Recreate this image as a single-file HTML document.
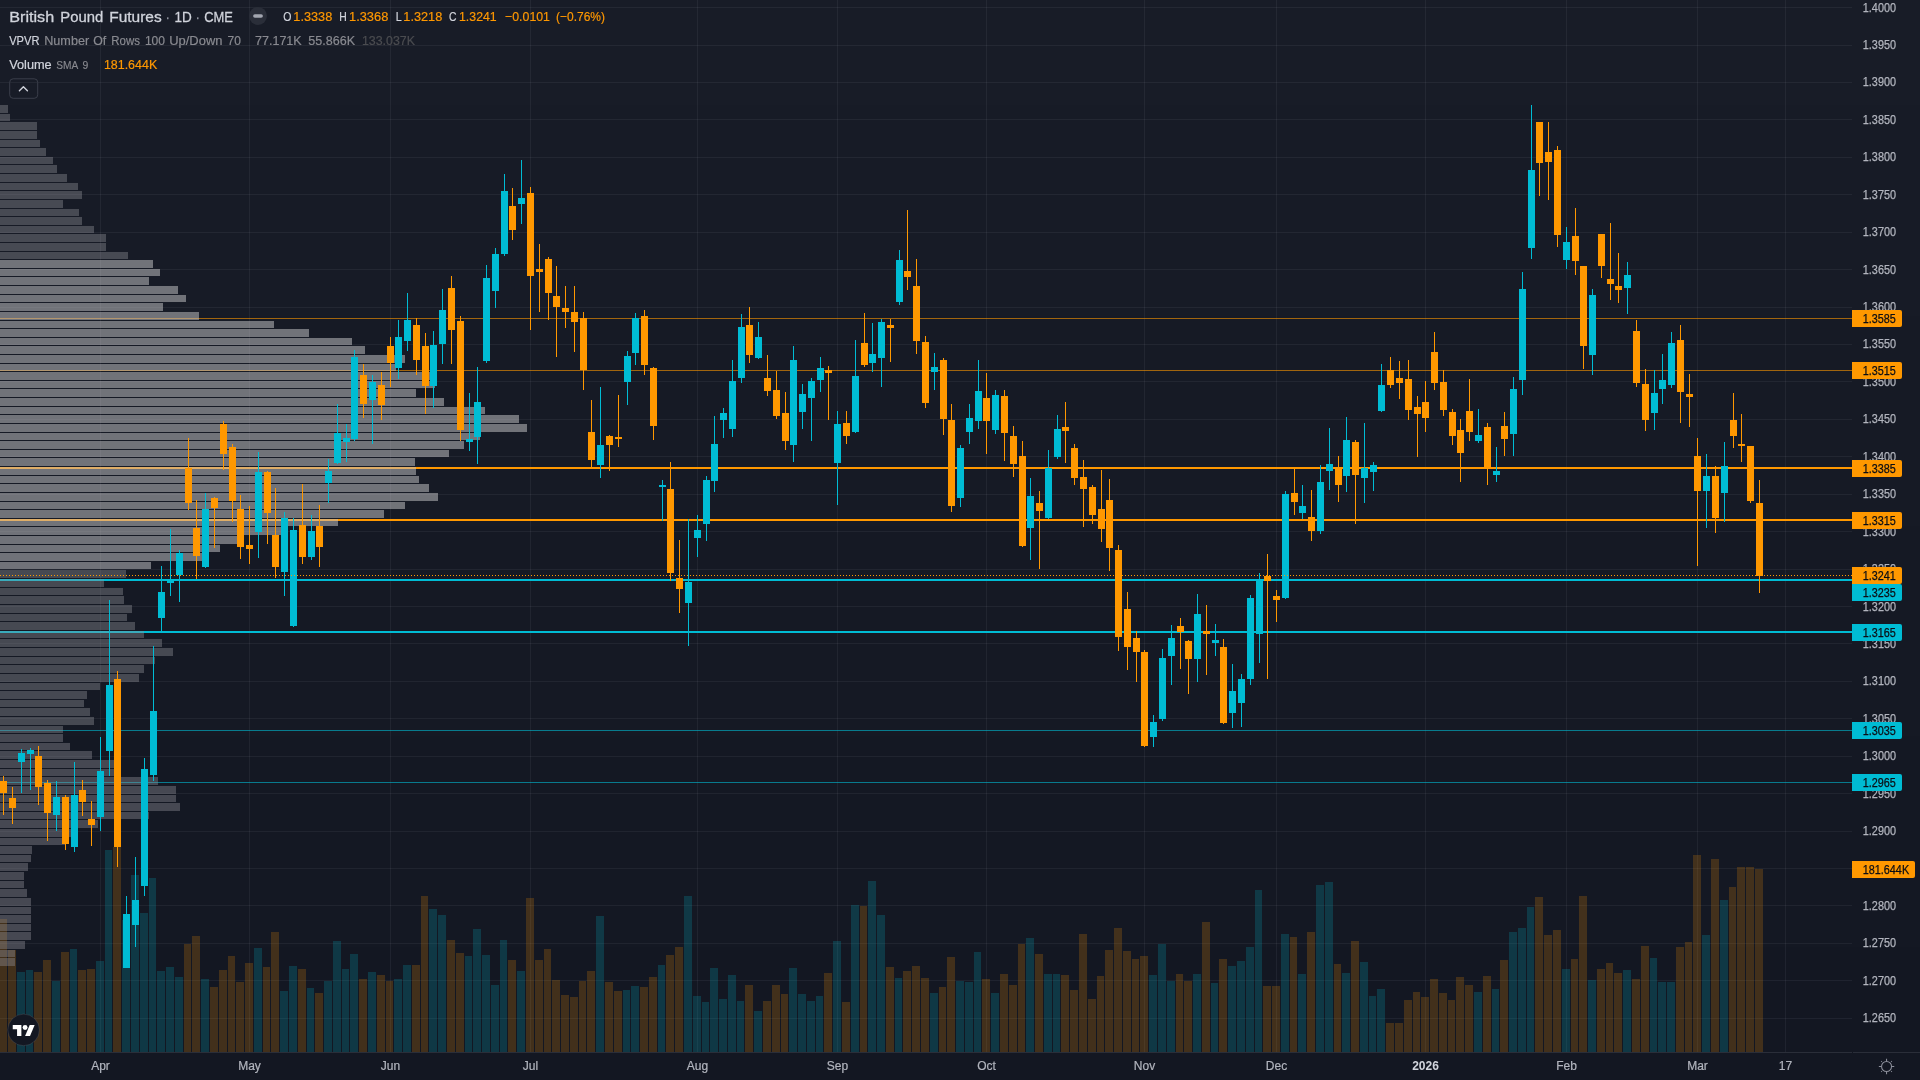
<!DOCTYPE html>
<html><head><meta charset="utf-8"><title>British Pound Futures</title>
<style>html,body{margin:0;padding:0;background:#131722;width:1920px;height:1080px;overflow:hidden}</style>
</head><body>
<svg width="1920" height="1080" viewBox="0 0 1920 1080" style="display:block;font-family:'Liberation Sans',sans-serif">
<rect x="0" y="0" width="1920" height="1080" fill="#131722"/>
<rect x="0" y="0" width="1920" height="105" fill="#181c27" shape-rendering="crispEdges"/>
<rect x="0" y="105" width="1920" height="211" fill="#171b26" shape-rendering="crispEdges"/>
<rect x="0" y="316" width="1920" height="210" fill="#161a25" shape-rendering="crispEdges"/>
<rect x="0" y="526" width="1920" height="210" fill="#151924" shape-rendering="crispEdges"/>
<rect x="0" y="736" width="1920" height="211" fill="#141823" shape-rendering="crispEdges"/>
<rect x="0" y="947" width="1920" height="105" fill="#131722" shape-rendering="crispEdges"/>
<g shape-rendering="crispEdges" fill="#f0f3fa" fill-opacity="0.06">
<rect x="0" y="7" width="1852" height="1"/>
<rect x="0" y="45" width="1852" height="1"/>
<rect x="0" y="82" width="1852" height="1"/>
<rect x="0" y="119" width="1852" height="1"/>
<rect x="0" y="157" width="1852" height="1"/>
<rect x="0" y="194" width="1852" height="1"/>
<rect x="0" y="232" width="1852" height="1"/>
<rect x="0" y="269" width="1852" height="1"/>
<rect x="0" y="307" width="1852" height="1"/>
<rect x="0" y="344" width="1852" height="1"/>
<rect x="0" y="381" width="1852" height="1"/>
<rect x="0" y="419" width="1852" height="1"/>
<rect x="0" y="456" width="1852" height="1"/>
<rect x="0" y="494" width="1852" height="1"/>
<rect x="0" y="531" width="1852" height="1"/>
<rect x="0" y="569" width="1852" height="1"/>
<rect x="0" y="606" width="1852" height="1"/>
<rect x="0" y="643" width="1852" height="1"/>
<rect x="0" y="681" width="1852" height="1"/>
<rect x="0" y="718" width="1852" height="1"/>
<rect x="0" y="756" width="1852" height="1"/>
<rect x="0" y="793" width="1852" height="1"/>
<rect x="0" y="831" width="1852" height="1"/>
<rect x="0" y="868" width="1852" height="1"/>
<rect x="0" y="905" width="1852" height="1"/>
<rect x="0" y="943" width="1852" height="1"/>
<rect x="0" y="980" width="1852" height="1"/>
<rect x="0" y="1018" width="1852" height="1"/>
<rect x="100" y="0" width="1" height="1052"/>
<rect x="249" y="0" width="1" height="1052"/>
<rect x="390" y="0" width="1" height="1052"/>
<rect x="530" y="0" width="1" height="1052"/>
<rect x="697" y="0" width="1" height="1052"/>
<rect x="837" y="0" width="1" height="1052"/>
<rect x="986" y="0" width="1" height="1052"/>
<rect x="1144" y="0" width="1" height="1052"/>
<rect x="1276" y="0" width="1" height="1052"/>
<rect x="1425" y="0" width="1" height="1052"/>
<rect x="1566" y="0" width="1" height="1052"/>
<rect x="1697" y="0" width="1" height="1052"/>
<rect x="1785" y="0" width="1" height="1052"/>
</g>
<g shape-rendering="crispEdges" fill-opacity="0.2">
<rect x="0" y="919" width="7" height="133" fill="#ff9800"/>
<rect x="8" y="950" width="8" height="102" fill="#ff9800"/>
<rect x="17" y="972" width="8" height="80" fill="#00bcd4"/>
<rect x="26" y="970" width="7" height="82" fill="#00bcd4"/>
<rect x="34" y="972" width="8" height="80" fill="#ff9800"/>
<rect x="43" y="960" width="8" height="92" fill="#ff9800"/>
<rect x="52" y="981" width="8" height="71" fill="#00bcd4"/>
<rect x="61" y="952" width="8" height="100" fill="#ff9800"/>
<rect x="70" y="949" width="7" height="103" fill="#00bcd4"/>
<rect x="78" y="970" width="8" height="82" fill="#ff9800"/>
<rect x="87" y="969" width="8" height="83" fill="#ff9800"/>
<rect x="96" y="961" width="8" height="91" fill="#00bcd4"/>
<rect x="105" y="850" width="7" height="202" fill="#00bcd4"/>
<rect x="113" y="847" width="8" height="205" fill="#ff9800"/>
<rect x="122" y="920" width="8" height="132" fill="#00bcd4"/>
<rect x="131" y="875" width="8" height="177" fill="#00bcd4"/>
<rect x="140" y="913" width="8" height="139" fill="#00bcd4"/>
<rect x="149" y="878" width="7" height="174" fill="#00bcd4"/>
<rect x="157" y="971" width="8" height="81" fill="#00bcd4"/>
<rect x="166" y="967" width="8" height="85" fill="#00bcd4"/>
<rect x="175" y="977" width="8" height="75" fill="#00bcd4"/>
<rect x="184" y="944" width="7" height="108" fill="#ff9800"/>
<rect x="192" y="936" width="8" height="116" fill="#ff9800"/>
<rect x="201" y="979" width="8" height="73" fill="#00bcd4"/>
<rect x="210" y="987" width="8" height="65" fill="#ff9800"/>
<rect x="219" y="970" width="8" height="82" fill="#ff9800"/>
<rect x="228" y="956" width="7" height="96" fill="#ff9800"/>
<rect x="236" y="982" width="8" height="70" fill="#ff9800"/>
<rect x="245" y="963" width="8" height="89" fill="#ff9800"/>
<rect x="254" y="948" width="8" height="104" fill="#00bcd4"/>
<rect x="263" y="967" width="7" height="85" fill="#ff9800"/>
<rect x="271" y="932" width="8" height="120" fill="#ff9800"/>
<rect x="280" y="991" width="8" height="61" fill="#00bcd4"/>
<rect x="289" y="966" width="8" height="86" fill="#00bcd4"/>
<rect x="298" y="969" width="8" height="83" fill="#ff9800"/>
<rect x="307" y="988" width="7" height="64" fill="#00bcd4"/>
<rect x="315" y="993" width="8" height="59" fill="#ff9800"/>
<rect x="324" y="981" width="8" height="71" fill="#00bcd4"/>
<rect x="333" y="941" width="8" height="111" fill="#00bcd4"/>
<rect x="342" y="969" width="7" height="83" fill="#00bcd4"/>
<rect x="350" y="954" width="8" height="98" fill="#00bcd4"/>
<rect x="359" y="979" width="8" height="73" fill="#ff9800"/>
<rect x="368" y="972" width="8" height="80" fill="#00bcd4"/>
<rect x="377" y="975" width="8" height="77" fill="#ff9800"/>
<rect x="386" y="981" width="7" height="71" fill="#ff9800"/>
<rect x="394" y="979" width="8" height="73" fill="#00bcd4"/>
<rect x="403" y="965" width="8" height="87" fill="#00bcd4"/>
<rect x="412" y="965" width="8" height="87" fill="#ff9800"/>
<rect x="421" y="896" width="7" height="156" fill="#ff9800"/>
<rect x="429" y="909" width="8" height="143" fill="#00bcd4"/>
<rect x="438" y="915" width="8" height="137" fill="#00bcd4"/>
<rect x="447" y="940" width="8" height="112" fill="#ff9800"/>
<rect x="456" y="953" width="8" height="99" fill="#ff9800"/>
<rect x="465" y="956" width="7" height="96" fill="#00bcd4"/>
<rect x="473" y="929" width="8" height="123" fill="#00bcd4"/>
<rect x="482" y="955" width="8" height="97" fill="#00bcd4"/>
<rect x="491" y="985" width="8" height="67" fill="#00bcd4"/>
<rect x="500" y="940" width="7" height="112" fill="#00bcd4"/>
<rect x="508" y="960" width="8" height="92" fill="#ff9800"/>
<rect x="517" y="971" width="8" height="81" fill="#00bcd4"/>
<rect x="526" y="898" width="8" height="154" fill="#ff9800"/>
<rect x="535" y="960" width="8" height="92" fill="#ff9800"/>
<rect x="544" y="949" width="7" height="103" fill="#ff9800"/>
<rect x="552" y="980" width="8" height="72" fill="#ff9800"/>
<rect x="561" y="995" width="8" height="57" fill="#ff9800"/>
<rect x="570" y="997" width="8" height="55" fill="#ff9800"/>
<rect x="579" y="981" width="7" height="71" fill="#ff9800"/>
<rect x="587" y="971" width="8" height="81" fill="#ff9800"/>
<rect x="596" y="916" width="8" height="136" fill="#00bcd4"/>
<rect x="605" y="982" width="8" height="70" fill="#ff9800"/>
<rect x="614" y="991" width="8" height="61" fill="#ff9800"/>
<rect x="623" y="990" width="7" height="62" fill="#00bcd4"/>
<rect x="631" y="986" width="8" height="66" fill="#00bcd4"/>
<rect x="640" y="987" width="8" height="65" fill="#ff9800"/>
<rect x="649" y="977" width="8" height="75" fill="#ff9800"/>
<rect x="658" y="965" width="7" height="87" fill="#00bcd4"/>
<rect x="666" y="955" width="8" height="97" fill="#ff9800"/>
<rect x="675" y="947" width="8" height="105" fill="#ff9800"/>
<rect x="684" y="896" width="8" height="156" fill="#00bcd4"/>
<rect x="693" y="996" width="8" height="56" fill="#00bcd4"/>
<rect x="702" y="1002" width="7" height="50" fill="#00bcd4"/>
<rect x="710" y="968" width="8" height="84" fill="#00bcd4"/>
<rect x="719" y="999" width="8" height="53" fill="#00bcd4"/>
<rect x="728" y="975" width="8" height="77" fill="#00bcd4"/>
<rect x="737" y="1001" width="7" height="51" fill="#00bcd4"/>
<rect x="745" y="985" width="8" height="67" fill="#ff9800"/>
<rect x="754" y="1011" width="8" height="41" fill="#00bcd4"/>
<rect x="763" y="1001" width="8" height="51" fill="#ff9800"/>
<rect x="772" y="985" width="8" height="67" fill="#ff9800"/>
<rect x="781" y="994" width="7" height="58" fill="#ff9800"/>
<rect x="789" y="968" width="8" height="84" fill="#00bcd4"/>
<rect x="798" y="994" width="8" height="58" fill="#00bcd4"/>
<rect x="807" y="1001" width="8" height="51" fill="#00bcd4"/>
<rect x="816" y="996" width="7" height="56" fill="#00bcd4"/>
<rect x="824" y="973" width="8" height="79" fill="#ff9800"/>
<rect x="833" y="941" width="8" height="111" fill="#00bcd4"/>
<rect x="842" y="1002" width="8" height="50" fill="#ff9800"/>
<rect x="851" y="905" width="8" height="147" fill="#00bcd4"/>
<rect x="860" y="906" width="7" height="146" fill="#ff9800"/>
<rect x="868" y="881" width="8" height="171" fill="#00bcd4"/>
<rect x="877" y="915" width="8" height="137" fill="#00bcd4"/>
<rect x="886" y="967" width="8" height="85" fill="#ff9800"/>
<rect x="895" y="978" width="7" height="74" fill="#00bcd4"/>
<rect x="903" y="971" width="8" height="81" fill="#ff9800"/>
<rect x="912" y="966" width="8" height="86" fill="#ff9800"/>
<rect x="921" y="978" width="8" height="74" fill="#ff9800"/>
<rect x="930" y="993" width="8" height="59" fill="#00bcd4"/>
<rect x="939" y="987" width="7" height="65" fill="#ff9800"/>
<rect x="947" y="957" width="8" height="95" fill="#ff9800"/>
<rect x="956" y="981" width="8" height="71" fill="#00bcd4"/>
<rect x="965" y="982" width="8" height="70" fill="#00bcd4"/>
<rect x="974" y="952" width="7" height="100" fill="#00bcd4"/>
<rect x="982" y="979" width="8" height="73" fill="#ff9800"/>
<rect x="991" y="993" width="8" height="59" fill="#00bcd4"/>
<rect x="1000" y="974" width="8" height="78" fill="#ff9800"/>
<rect x="1009" y="985" width="8" height="67" fill="#ff9800"/>
<rect x="1018" y="944" width="7" height="108" fill="#ff9800"/>
<rect x="1026" y="938" width="8" height="114" fill="#00bcd4"/>
<rect x="1035" y="954" width="8" height="98" fill="#ff9800"/>
<rect x="1044" y="974" width="8" height="78" fill="#00bcd4"/>
<rect x="1053" y="974" width="7" height="78" fill="#00bcd4"/>
<rect x="1061" y="975" width="8" height="77" fill="#ff9800"/>
<rect x="1070" y="990" width="8" height="62" fill="#ff9800"/>
<rect x="1079" y="934" width="8" height="118" fill="#ff9800"/>
<rect x="1088" y="999" width="8" height="53" fill="#ff9800"/>
<rect x="1097" y="976" width="7" height="76" fill="#ff9800"/>
<rect x="1105" y="950" width="8" height="102" fill="#ff9800"/>
<rect x="1114" y="928" width="8" height="124" fill="#ff9800"/>
<rect x="1123" y="951" width="8" height="101" fill="#ff9800"/>
<rect x="1132" y="959" width="7" height="93" fill="#ff9800"/>
<rect x="1140" y="956" width="8" height="96" fill="#ff9800"/>
<rect x="1149" y="975" width="8" height="77" fill="#00bcd4"/>
<rect x="1158" y="944" width="8" height="108" fill="#00bcd4"/>
<rect x="1167" y="981" width="8" height="71" fill="#00bcd4"/>
<rect x="1176" y="974" width="7" height="78" fill="#ff9800"/>
<rect x="1184" y="981" width="8" height="71" fill="#ff9800"/>
<rect x="1193" y="974" width="8" height="78" fill="#00bcd4"/>
<rect x="1202" y="922" width="8" height="130" fill="#ff9800"/>
<rect x="1211" y="983" width="7" height="69" fill="#00bcd4"/>
<rect x="1219" y="959" width="8" height="93" fill="#ff9800"/>
<rect x="1228" y="966" width="8" height="86" fill="#00bcd4"/>
<rect x="1237" y="961" width="8" height="91" fill="#00bcd4"/>
<rect x="1246" y="947" width="8" height="105" fill="#00bcd4"/>
<rect x="1255" y="890" width="7" height="162" fill="#00bcd4"/>
<rect x="1263" y="986" width="8" height="66" fill="#ff9800"/>
<rect x="1272" y="986" width="8" height="66" fill="#ff9800"/>
<rect x="1281" y="934" width="8" height="118" fill="#00bcd4"/>
<rect x="1290" y="937" width="7" height="115" fill="#ff9800"/>
<rect x="1298" y="974" width="8" height="78" fill="#00bcd4"/>
<rect x="1307" y="932" width="8" height="120" fill="#ff9800"/>
<rect x="1316" y="885" width="8" height="167" fill="#00bcd4"/>
<rect x="1325" y="882" width="8" height="170" fill="#00bcd4"/>
<rect x="1334" y="964" width="7" height="88" fill="#ff9800"/>
<rect x="1342" y="973" width="8" height="79" fill="#00bcd4"/>
<rect x="1351" y="941" width="8" height="111" fill="#ff9800"/>
<rect x="1360" y="962" width="8" height="90" fill="#00bcd4"/>
<rect x="1369" y="996" width="7" height="56" fill="#00bcd4"/>
<rect x="1377" y="989" width="8" height="63" fill="#00bcd4"/>
<rect x="1386" y="1023" width="8" height="29" fill="#ff9800"/>
<rect x="1395" y="1023" width="8" height="29" fill="#ff9800"/>
<rect x="1404" y="1000" width="8" height="52" fill="#ff9800"/>
<rect x="1413" y="992" width="7" height="60" fill="#ff9800"/>
<rect x="1421" y="997" width="8" height="55" fill="#ff9800"/>
<rect x="1430" y="979" width="8" height="73" fill="#ff9800"/>
<rect x="1439" y="993" width="8" height="59" fill="#ff9800"/>
<rect x="1448" y="1000" width="7" height="52" fill="#ff9800"/>
<rect x="1456" y="977" width="8" height="75" fill="#ff9800"/>
<rect x="1465" y="985" width="8" height="67" fill="#ff9800"/>
<rect x="1474" y="992" width="8" height="60" fill="#00bcd4"/>
<rect x="1483" y="976" width="8" height="76" fill="#ff9800"/>
<rect x="1492" y="989" width="7" height="63" fill="#00bcd4"/>
<rect x="1500" y="960" width="8" height="92" fill="#ff9800"/>
<rect x="1509" y="932" width="8" height="120" fill="#00bcd4"/>
<rect x="1518" y="928" width="8" height="124" fill="#00bcd4"/>
<rect x="1527" y="907" width="7" height="145" fill="#00bcd4"/>
<rect x="1535" y="897" width="8" height="155" fill="#ff9800"/>
<rect x="1544" y="935" width="8" height="117" fill="#ff9800"/>
<rect x="1553" y="930" width="8" height="122" fill="#ff9800"/>
<rect x="1562" y="969" width="8" height="83" fill="#00bcd4"/>
<rect x="1571" y="959" width="7" height="93" fill="#ff9800"/>
<rect x="1579" y="896" width="8" height="156" fill="#ff9800"/>
<rect x="1588" y="980" width="8" height="72" fill="#00bcd4"/>
<rect x="1597" y="969" width="8" height="83" fill="#ff9800"/>
<rect x="1606" y="963" width="7" height="89" fill="#ff9800"/>
<rect x="1614" y="973" width="8" height="79" fill="#ff9800"/>
<rect x="1623" y="970" width="8" height="82" fill="#00bcd4"/>
<rect x="1632" y="979" width="8" height="73" fill="#ff9800"/>
<rect x="1641" y="946" width="8" height="106" fill="#ff9800"/>
<rect x="1650" y="958" width="7" height="94" fill="#00bcd4"/>
<rect x="1658" y="982" width="8" height="70" fill="#00bcd4"/>
<rect x="1667" y="982" width="8" height="70" fill="#00bcd4"/>
<rect x="1676" y="947" width="8" height="105" fill="#ff9800"/>
<rect x="1685" y="942" width="7" height="110" fill="#ff9800"/>
<rect x="1693" y="855" width="8" height="197" fill="#ff9800"/>
<rect x="1702" y="935" width="8" height="117" fill="#00bcd4"/>
<rect x="1711" y="859" width="8" height="193" fill="#ff9800"/>
<rect x="1720" y="900" width="8" height="152" fill="#00bcd4"/>
<rect x="1729" y="887" width="7" height="165" fill="#ff9800"/>
<rect x="1737" y="867" width="8" height="185" fill="#ff9800"/>
<rect x="1746" y="867" width="8" height="185" fill="#ff9800"/>
<rect x="1755" y="869" width="8" height="183" fill="#ff9800"/>
</g>
<rect x="0" y="318" width="1852" height="1" fill="#ff9800" fill-opacity="0.6" shape-rendering="crispEdges"/>
<rect x="0" y="370" width="1852" height="1" fill="#ff9800" fill-opacity="0.6" shape-rendering="crispEdges"/>
<rect x="0" y="467" width="1852" height="2" fill="#ff9800" fill-opacity="1.0" shape-rendering="crispEdges"/>
<rect x="0" y="519" width="1852" height="2" fill="#ff9800" fill-opacity="1.0" shape-rendering="crispEdges"/>
<rect x="0" y="579" width="1852" height="2" fill="#00bcd4" fill-opacity="1.0" shape-rendering="crispEdges"/>
<rect x="0" y="631" width="1852" height="2" fill="#00bcd4" fill-opacity="1.0" shape-rendering="crispEdges"/>
<rect x="0" y="730" width="1852" height="1" fill="#00bcd4" fill-opacity="0.6" shape-rendering="crispEdges"/>
<rect x="0" y="782" width="1852" height="1" fill="#00bcd4" fill-opacity="0.6" shape-rendering="crispEdges"/>
<g shape-rendering="crispEdges">
<rect x="0" y="105" width="8" height="8" fill="#919299" fill-opacity="0.4"/>
<rect x="0" y="114" width="10" height="7" fill="#919299" fill-opacity="0.4"/>
<rect x="0" y="122" width="37" height="8" fill="#919299" fill-opacity="0.4"/>
<rect x="0" y="131" width="37" height="8" fill="#919299" fill-opacity="0.4"/>
<rect x="0" y="140" width="40" height="7" fill="#919299" fill-opacity="0.4"/>
<rect x="0" y="148" width="46" height="8" fill="#919299" fill-opacity="0.4"/>
<rect x="0" y="157" width="53" height="7" fill="#919299" fill-opacity="0.4"/>
<rect x="0" y="165" width="57" height="8" fill="#919299" fill-opacity="0.4"/>
<rect x="0" y="174" width="67" height="8" fill="#919299" fill-opacity="0.4"/>
<rect x="0" y="183" width="78" height="7" fill="#919299" fill-opacity="0.4"/>
<rect x="0" y="191" width="82" height="8" fill="#919299" fill-opacity="0.4"/>
<rect x="0" y="200" width="63" height="8" fill="#919299" fill-opacity="0.4"/>
<rect x="0" y="209" width="79" height="7" fill="#919299" fill-opacity="0.4"/>
<rect x="0" y="217" width="82" height="8" fill="#919299" fill-opacity="0.4"/>
<rect x="0" y="226" width="94" height="7" fill="#919299" fill-opacity="0.4"/>
<rect x="0" y="234" width="106" height="8" fill="#919299" fill-opacity="0.4"/>
<rect x="0" y="243" width="106" height="8" fill="#919299" fill-opacity="0.4"/>
<rect x="0" y="252" width="128" height="7" fill="#919299" fill-opacity="0.4"/>
<rect x="0" y="260" width="153" height="8" fill="#c2c2c5" fill-opacity="0.53"/>
<rect x="0" y="269" width="160" height="7" fill="#c2c2c5" fill-opacity="0.53"/>
<rect x="0" y="277" width="149" height="8" fill="#c2c2c5" fill-opacity="0.53"/>
<rect x="0" y="286" width="178" height="8" fill="#c2c2c5" fill-opacity="0.53"/>
<rect x="0" y="295" width="186" height="7" fill="#c2c2c5" fill-opacity="0.53"/>
<rect x="0" y="303" width="163" height="8" fill="#c2c2c5" fill-opacity="0.53"/>
<rect x="0" y="312" width="199" height="8" fill="#c2c2c5" fill-opacity="0.53"/>
<rect x="0" y="321" width="274" height="7" fill="#c2c2c5" fill-opacity="0.53"/>
<rect x="0" y="329" width="309" height="8" fill="#c2c2c5" fill-opacity="0.53"/>
<rect x="0" y="338" width="352" height="7" fill="#c2c2c5" fill-opacity="0.53"/>
<rect x="0" y="346" width="365" height="8" fill="#c2c2c5" fill-opacity="0.53"/>
<rect x="0" y="355" width="405" height="8" fill="#c2c2c5" fill-opacity="0.53"/>
<rect x="0" y="364" width="396" height="7" fill="#c2c2c5" fill-opacity="0.53"/>
<rect x="0" y="372" width="434" height="8" fill="#c2c2c5" fill-opacity="0.53"/>
<rect x="0" y="381" width="435" height="7" fill="#c2c2c5" fill-opacity="0.53"/>
<rect x="0" y="389" width="416" height="8" fill="#c2c2c5" fill-opacity="0.53"/>
<rect x="0" y="398" width="444" height="8" fill="#c2c2c5" fill-opacity="0.53"/>
<rect x="0" y="407" width="485" height="7" fill="#c2c2c5" fill-opacity="0.53"/>
<rect x="0" y="415" width="519" height="8" fill="#c2c2c5" fill-opacity="0.53"/>
<rect x="0" y="424" width="527" height="8" fill="#c2c2c5" fill-opacity="0.53"/>
<rect x="0" y="433" width="480" height="7" fill="#c2c2c5" fill-opacity="0.53"/>
<rect x="0" y="441" width="464" height="8" fill="#c2c2c5" fill-opacity="0.53"/>
<rect x="0" y="450" width="449" height="7" fill="#c2c2c5" fill-opacity="0.53"/>
<rect x="0" y="458" width="415" height="8" fill="#c2c2c5" fill-opacity="0.53"/>
<rect x="0" y="467" width="416" height="8" fill="#c2c2c5" fill-opacity="0.53"/>
<rect x="0" y="476" width="419" height="7" fill="#c2c2c5" fill-opacity="0.53"/>
<rect x="0" y="484" width="429" height="8" fill="#c2c2c5" fill-opacity="0.53"/>
<rect x="0" y="493" width="438" height="8" fill="#c2c2c5" fill-opacity="0.53"/>
<rect x="0" y="502" width="405" height="7" fill="#c2c2c5" fill-opacity="0.53"/>
<rect x="0" y="510" width="384" height="8" fill="#c2c2c5" fill-opacity="0.53"/>
<rect x="0" y="519" width="338" height="7" fill="#c2c2c5" fill-opacity="0.53"/>
<rect x="0" y="527" width="284" height="8" fill="#c2c2c5" fill-opacity="0.53"/>
<rect x="0" y="536" width="240" height="8" fill="#c2c2c5" fill-opacity="0.53"/>
<rect x="0" y="545" width="220" height="7" fill="#c2c2c5" fill-opacity="0.53"/>
<rect x="0" y="553" width="205" height="8" fill="#c2c2c5" fill-opacity="0.53"/>
<rect x="0" y="562" width="151" height="7" fill="#c2c2c5" fill-opacity="0.53"/>
<rect x="0" y="570" width="126" height="8" fill="#919299" fill-opacity="0.4"/>
<rect x="0" y="579" width="104" height="8" fill="#919299" fill-opacity="0.4"/>
<rect x="0" y="588" width="123" height="7" fill="#919299" fill-opacity="0.4"/>
<rect x="0" y="596" width="124" height="8" fill="#919299" fill-opacity="0.4"/>
<rect x="0" y="605" width="132" height="8" fill="#919299" fill-opacity="0.4"/>
<rect x="0" y="614" width="127" height="7" fill="#919299" fill-opacity="0.4"/>
<rect x="0" y="622" width="135" height="8" fill="#919299" fill-opacity="0.4"/>
<rect x="0" y="631" width="144" height="7" fill="#919299" fill-opacity="0.4"/>
<rect x="0" y="639" width="162" height="8" fill="#919299" fill-opacity="0.4"/>
<rect x="0" y="648" width="173" height="8" fill="#919299" fill-opacity="0.4"/>
<rect x="0" y="657" width="155" height="7" fill="#919299" fill-opacity="0.4"/>
<rect x="0" y="665" width="144" height="8" fill="#919299" fill-opacity="0.4"/>
<rect x="0" y="674" width="139" height="8" fill="#919299" fill-opacity="0.4"/>
<rect x="0" y="683" width="100" height="7" fill="#919299" fill-opacity="0.4"/>
<rect x="0" y="691" width="87" height="8" fill="#919299" fill-opacity="0.4"/>
<rect x="0" y="700" width="84" height="7" fill="#919299" fill-opacity="0.4"/>
<rect x="0" y="708" width="90" height="8" fill="#919299" fill-opacity="0.4"/>
<rect x="0" y="717" width="94" height="8" fill="#919299" fill-opacity="0.4"/>
<rect x="0" y="726" width="63" height="7" fill="#919299" fill-opacity="0.4"/>
<rect x="0" y="734" width="63" height="8" fill="#919299" fill-opacity="0.4"/>
<rect x="0" y="743" width="70" height="7" fill="#919299" fill-opacity="0.4"/>
<rect x="0" y="751" width="92" height="8" fill="#919299" fill-opacity="0.4"/>
<rect x="0" y="760" width="117" height="8" fill="#919299" fill-opacity="0.4"/>
<rect x="0" y="769" width="117" height="7" fill="#919299" fill-opacity="0.4"/>
<rect x="0" y="777" width="158" height="8" fill="#919299" fill-opacity="0.4"/>
<rect x="0" y="786" width="176" height="8" fill="#919299" fill-opacity="0.4"/>
<rect x="0" y="795" width="176" height="7" fill="#919299" fill-opacity="0.4"/>
<rect x="0" y="803" width="180" height="8" fill="#919299" fill-opacity="0.4"/>
<rect x="0" y="812" width="149" height="7" fill="#919299" fill-opacity="0.4"/>
<rect x="0" y="820" width="98" height="8" fill="#919299" fill-opacity="0.4"/>
<rect x="0" y="829" width="74" height="8" fill="#919299" fill-opacity="0.4"/>
<rect x="0" y="838" width="65" height="7" fill="#919299" fill-opacity="0.4"/>
<rect x="0" y="846" width="32" height="8" fill="#919299" fill-opacity="0.4"/>
<rect x="0" y="855" width="31" height="7" fill="#919299" fill-opacity="0.4"/>
<rect x="0" y="863" width="28" height="8" fill="#919299" fill-opacity="0.4"/>
<rect x="0" y="872" width="24" height="8" fill="#919299" fill-opacity="0.4"/>
<rect x="0" y="881" width="24" height="7" fill="#919299" fill-opacity="0.4"/>
<rect x="0" y="889" width="27" height="8" fill="#919299" fill-opacity="0.4"/>
<rect x="0" y="898" width="31" height="8" fill="#919299" fill-opacity="0.4"/>
<rect x="0" y="907" width="31" height="7" fill="#919299" fill-opacity="0.4"/>
<rect x="0" y="915" width="31" height="8" fill="#919299" fill-opacity="0.4"/>
<rect x="0" y="924" width="31" height="7" fill="#919299" fill-opacity="0.4"/>
<rect x="0" y="932" width="31" height="8" fill="#919299" fill-opacity="0.4"/>
<rect x="0" y="941" width="25" height="8" fill="#919299" fill-opacity="0.4"/>
<rect x="0" y="950" width="15" height="7" fill="#919299" fill-opacity="0.4"/>
<rect x="0" y="958" width="15" height="8" fill="#919299" fill-opacity="0.4"/>
</g>
<g shape-rendering="crispEdges">
<rect x="3" y="776" width="1" height="39" fill="#ff9800"/>
<rect x="0" y="781" width="7" height="12" fill="#ff9800"/>
<rect x="12" y="787" width="1" height="37" fill="#ff9800"/>
<rect x="9" y="798" width="7" height="10" fill="#ff9800"/>
<rect x="21" y="749" width="1" height="44" fill="#00bcd4"/>
<rect x="18" y="753" width="7" height="9" fill="#00bcd4"/>
<rect x="30" y="748" width="1" height="42" fill="#00bcd4"/>
<rect x="27" y="750" width="7" height="4" fill="#00bcd4"/>
<rect x="38" y="746" width="1" height="59" fill="#ff9800"/>
<rect x="35" y="756" width="7" height="31" fill="#ff9800"/>
<rect x="47" y="780" width="1" height="61" fill="#ff9800"/>
<rect x="44" y="783" width="7" height="30" fill="#ff9800"/>
<rect x="56" y="781" width="1" height="50" fill="#00bcd4"/>
<rect x="53" y="797" width="7" height="18" fill="#00bcd4"/>
<rect x="65" y="795" width="1" height="55" fill="#ff9800"/>
<rect x="62" y="797" width="7" height="47" fill="#ff9800"/>
<rect x="74" y="762" width="1" height="90" fill="#00bcd4"/>
<rect x="71" y="795" width="7" height="52" fill="#00bcd4"/>
<rect x="82" y="780" width="1" height="36" fill="#ff9800"/>
<rect x="79" y="790" width="7" height="12" fill="#ff9800"/>
<rect x="91" y="801" width="1" height="45" fill="#ff9800"/>
<rect x="88" y="819" width="7" height="6" fill="#ff9800"/>
<rect x="100" y="737" width="1" height="94" fill="#00bcd4"/>
<rect x="97" y="771" width="7" height="46" fill="#00bcd4"/>
<rect x="109" y="600" width="1" height="176" fill="#00bcd4"/>
<rect x="106" y="685" width="7" height="66" fill="#00bcd4"/>
<rect x="117" y="671" width="1" height="196" fill="#ff9800"/>
<rect x="114" y="679" width="7" height="168" fill="#ff9800"/>
<rect x="126" y="896" width="1" height="72" fill="#00bcd4"/>
<rect x="123" y="914" width="7" height="54" fill="#00bcd4"/>
<rect x="135" y="857" width="1" height="90" fill="#00bcd4"/>
<rect x="132" y="900" width="7" height="25" fill="#00bcd4"/>
<rect x="144" y="758" width="1" height="138" fill="#00bcd4"/>
<rect x="141" y="769" width="7" height="117" fill="#00bcd4"/>
<rect x="153" y="646" width="1" height="135" fill="#00bcd4"/>
<rect x="150" y="711" width="7" height="64" fill="#00bcd4"/>
<rect x="161" y="566" width="1" height="65" fill="#00bcd4"/>
<rect x="158" y="592" width="7" height="26" fill="#00bcd4"/>
<rect x="170" y="529" width="1" height="67" fill="#00bcd4"/>
<rect x="167" y="580" width="7" height="3" fill="#00bcd4"/>
<rect x="179" y="550" width="1" height="52" fill="#00bcd4"/>
<rect x="176" y="553" width="7" height="22" fill="#00bcd4"/>
<rect x="188" y="438" width="1" height="72" fill="#ff9800"/>
<rect x="185" y="468" width="7" height="35" fill="#ff9800"/>
<rect x="196" y="500" width="1" height="79" fill="#ff9800"/>
<rect x="193" y="528" width="7" height="28" fill="#ff9800"/>
<rect x="205" y="493" width="1" height="75" fill="#00bcd4"/>
<rect x="202" y="509" width="7" height="58" fill="#00bcd4"/>
<rect x="214" y="497" width="1" height="51" fill="#ff9800"/>
<rect x="211" y="498" width="7" height="10" fill="#ff9800"/>
<rect x="223" y="421" width="1" height="49" fill="#ff9800"/>
<rect x="220" y="424" width="7" height="30" fill="#ff9800"/>
<rect x="232" y="444" width="1" height="78" fill="#ff9800"/>
<rect x="229" y="447" width="7" height="54" fill="#ff9800"/>
<rect x="240" y="495" width="1" height="64" fill="#ff9800"/>
<rect x="237" y="509" width="7" height="38" fill="#ff9800"/>
<rect x="249" y="506" width="1" height="58" fill="#ff9800"/>
<rect x="246" y="545" width="7" height="4" fill="#ff9800"/>
<rect x="258" y="452" width="1" height="106" fill="#00bcd4"/>
<rect x="255" y="472" width="7" height="60" fill="#00bcd4"/>
<rect x="267" y="471" width="1" height="73" fill="#ff9800"/>
<rect x="264" y="472" width="7" height="41" fill="#ff9800"/>
<rect x="275" y="488" width="1" height="90" fill="#ff9800"/>
<rect x="272" y="535" width="7" height="32" fill="#ff9800"/>
<rect x="284" y="512" width="1" height="84" fill="#00bcd4"/>
<rect x="281" y="518" width="7" height="54" fill="#00bcd4"/>
<rect x="293" y="518" width="1" height="109" fill="#00bcd4"/>
<rect x="290" y="530" width="7" height="96" fill="#00bcd4"/>
<rect x="302" y="484" width="1" height="80" fill="#ff9800"/>
<rect x="299" y="525" width="7" height="32" fill="#ff9800"/>
<rect x="311" y="515" width="1" height="45" fill="#00bcd4"/>
<rect x="308" y="531" width="7" height="26" fill="#00bcd4"/>
<rect x="319" y="505" width="1" height="62" fill="#ff9800"/>
<rect x="316" y="526" width="7" height="21" fill="#ff9800"/>
<rect x="328" y="459" width="1" height="44" fill="#00bcd4"/>
<rect x="325" y="471" width="7" height="12" fill="#00bcd4"/>
<rect x="337" y="404" width="1" height="60" fill="#00bcd4"/>
<rect x="334" y="433" width="7" height="30" fill="#00bcd4"/>
<rect x="346" y="424" width="1" height="38" fill="#00bcd4"/>
<rect x="343" y="438" width="7" height="4" fill="#00bcd4"/>
<rect x="354" y="350" width="1" height="91" fill="#00bcd4"/>
<rect x="351" y="357" width="7" height="82" fill="#00bcd4"/>
<rect x="363" y="364" width="1" height="54" fill="#ff9800"/>
<rect x="360" y="375" width="7" height="29" fill="#ff9800"/>
<rect x="372" y="375" width="1" height="69" fill="#00bcd4"/>
<rect x="369" y="382" width="7" height="18" fill="#00bcd4"/>
<rect x="381" y="372" width="1" height="48" fill="#ff9800"/>
<rect x="378" y="385" width="7" height="20" fill="#ff9800"/>
<rect x="390" y="337" width="1" height="50" fill="#ff9800"/>
<rect x="387" y="346" width="7" height="17" fill="#ff9800"/>
<rect x="398" y="320" width="1" height="59" fill="#00bcd4"/>
<rect x="395" y="337" width="7" height="31" fill="#00bcd4"/>
<rect x="407" y="293" width="1" height="58" fill="#00bcd4"/>
<rect x="404" y="320" width="7" height="21" fill="#00bcd4"/>
<rect x="416" y="318" width="1" height="57" fill="#ff9800"/>
<rect x="413" y="325" width="7" height="35" fill="#ff9800"/>
<rect x="425" y="333" width="1" height="81" fill="#ff9800"/>
<rect x="422" y="346" width="7" height="40" fill="#ff9800"/>
<rect x="433" y="331" width="1" height="77" fill="#00bcd4"/>
<rect x="430" y="345" width="7" height="41" fill="#00bcd4"/>
<rect x="442" y="289" width="1" height="75" fill="#00bcd4"/>
<rect x="439" y="310" width="7" height="34" fill="#00bcd4"/>
<rect x="451" y="276" width="1" height="88" fill="#ff9800"/>
<rect x="448" y="288" width="7" height="42" fill="#ff9800"/>
<rect x="460" y="316" width="1" height="125" fill="#ff9800"/>
<rect x="457" y="321" width="7" height="109" fill="#ff9800"/>
<rect x="469" y="393" width="1" height="58" fill="#00bcd4"/>
<rect x="466" y="439" width="7" height="3" fill="#00bcd4"/>
<rect x="477" y="367" width="1" height="97" fill="#00bcd4"/>
<rect x="474" y="402" width="7" height="35" fill="#00bcd4"/>
<rect x="486" y="265" width="1" height="98" fill="#00bcd4"/>
<rect x="483" y="278" width="7" height="83" fill="#00bcd4"/>
<rect x="495" y="248" width="1" height="60" fill="#00bcd4"/>
<rect x="492" y="254" width="7" height="37" fill="#00bcd4"/>
<rect x="504" y="174" width="1" height="82" fill="#00bcd4"/>
<rect x="501" y="191" width="7" height="63" fill="#00bcd4"/>
<rect x="512" y="188" width="1" height="52" fill="#ff9800"/>
<rect x="509" y="206" width="7" height="24" fill="#ff9800"/>
<rect x="521" y="160" width="1" height="64" fill="#00bcd4"/>
<rect x="518" y="198" width="7" height="6" fill="#00bcd4"/>
<rect x="530" y="187" width="1" height="143" fill="#ff9800"/>
<rect x="527" y="193" width="7" height="83" fill="#ff9800"/>
<rect x="539" y="244" width="1" height="68" fill="#ff9800"/>
<rect x="536" y="269" width="7" height="3" fill="#ff9800"/>
<rect x="548" y="257" width="1" height="63" fill="#ff9800"/>
<rect x="545" y="259" width="7" height="34" fill="#ff9800"/>
<rect x="556" y="266" width="1" height="91" fill="#ff9800"/>
<rect x="553" y="296" width="7" height="11" fill="#ff9800"/>
<rect x="565" y="286" width="1" height="42" fill="#ff9800"/>
<rect x="562" y="308" width="7" height="4" fill="#ff9800"/>
<rect x="574" y="286" width="1" height="66" fill="#ff9800"/>
<rect x="571" y="312" width="7" height="10" fill="#ff9800"/>
<rect x="583" y="312" width="1" height="78" fill="#ff9800"/>
<rect x="580" y="318" width="7" height="52" fill="#ff9800"/>
<rect x="591" y="400" width="1" height="68" fill="#ff9800"/>
<rect x="588" y="432" width="7" height="28" fill="#ff9800"/>
<rect x="600" y="387" width="1" height="91" fill="#00bcd4"/>
<rect x="597" y="445" width="7" height="20" fill="#00bcd4"/>
<rect x="609" y="435" width="1" height="36" fill="#ff9800"/>
<rect x="606" y="436" width="7" height="9" fill="#ff9800"/>
<rect x="618" y="395" width="1" height="52" fill="#ff9800"/>
<rect x="615" y="437" width="7" height="2" fill="#ff9800"/>
<rect x="627" y="351" width="1" height="54" fill="#00bcd4"/>
<rect x="624" y="356" width="7" height="26" fill="#00bcd4"/>
<rect x="635" y="313" width="1" height="52" fill="#00bcd4"/>
<rect x="632" y="318" width="7" height="35" fill="#00bcd4"/>
<rect x="644" y="310" width="1" height="65" fill="#ff9800"/>
<rect x="641" y="316" width="7" height="49" fill="#ff9800"/>
<rect x="653" y="367" width="1" height="73" fill="#ff9800"/>
<rect x="650" y="368" width="7" height="58" fill="#ff9800"/>
<rect x="662" y="480" width="1" height="41" fill="#00bcd4"/>
<rect x="659" y="485" width="7" height="2" fill="#00bcd4"/>
<rect x="670" y="462" width="1" height="119" fill="#ff9800"/>
<rect x="667" y="489" width="7" height="84" fill="#ff9800"/>
<rect x="679" y="540" width="1" height="73" fill="#ff9800"/>
<rect x="676" y="578" width="7" height="11" fill="#ff9800"/>
<rect x="688" y="519" width="1" height="127" fill="#00bcd4"/>
<rect x="685" y="582" width="7" height="21" fill="#00bcd4"/>
<rect x="697" y="515" width="1" height="42" fill="#00bcd4"/>
<rect x="694" y="530" width="7" height="8" fill="#00bcd4"/>
<rect x="706" y="476" width="1" height="65" fill="#00bcd4"/>
<rect x="703" y="480" width="7" height="44" fill="#00bcd4"/>
<rect x="714" y="416" width="1" height="76" fill="#00bcd4"/>
<rect x="711" y="444" width="7" height="37" fill="#00bcd4"/>
<rect x="723" y="408" width="1" height="30" fill="#00bcd4"/>
<rect x="720" y="413" width="7" height="7" fill="#00bcd4"/>
<rect x="732" y="360" width="1" height="77" fill="#00bcd4"/>
<rect x="729" y="381" width="7" height="48" fill="#00bcd4"/>
<rect x="741" y="314" width="1" height="69" fill="#00bcd4"/>
<rect x="738" y="327" width="7" height="51" fill="#00bcd4"/>
<rect x="749" y="307" width="1" height="56" fill="#ff9800"/>
<rect x="746" y="325" width="7" height="30" fill="#ff9800"/>
<rect x="758" y="322" width="1" height="37" fill="#00bcd4"/>
<rect x="755" y="337" width="7" height="21" fill="#00bcd4"/>
<rect x="767" y="355" width="1" height="41" fill="#ff9800"/>
<rect x="764" y="378" width="7" height="13" fill="#ff9800"/>
<rect x="776" y="371" width="1" height="48" fill="#ff9800"/>
<rect x="773" y="390" width="7" height="26" fill="#ff9800"/>
<rect x="785" y="392" width="1" height="58" fill="#ff9800"/>
<rect x="782" y="413" width="7" height="28" fill="#ff9800"/>
<rect x="793" y="346" width="1" height="116" fill="#00bcd4"/>
<rect x="790" y="360" width="7" height="85" fill="#00bcd4"/>
<rect x="802" y="384" width="1" height="45" fill="#00bcd4"/>
<rect x="799" y="394" width="7" height="18" fill="#00bcd4"/>
<rect x="811" y="378" width="1" height="63" fill="#00bcd4"/>
<rect x="808" y="381" width="7" height="17" fill="#00bcd4"/>
<rect x="820" y="357" width="1" height="35" fill="#00bcd4"/>
<rect x="817" y="368" width="7" height="12" fill="#00bcd4"/>
<rect x="828" y="366" width="1" height="54" fill="#ff9800"/>
<rect x="825" y="370" width="7" height="3" fill="#ff9800"/>
<rect x="837" y="411" width="1" height="94" fill="#00bcd4"/>
<rect x="834" y="424" width="7" height="39" fill="#00bcd4"/>
<rect x="846" y="411" width="1" height="33" fill="#ff9800"/>
<rect x="843" y="423" width="7" height="13" fill="#ff9800"/>
<rect x="855" y="340" width="1" height="93" fill="#00bcd4"/>
<rect x="852" y="376" width="7" height="56" fill="#00bcd4"/>
<rect x="864" y="313" width="1" height="54" fill="#ff9800"/>
<rect x="861" y="343" width="7" height="22" fill="#ff9800"/>
<rect x="872" y="323" width="1" height="49" fill="#00bcd4"/>
<rect x="869" y="354" width="7" height="9" fill="#00bcd4"/>
<rect x="881" y="319" width="1" height="68" fill="#00bcd4"/>
<rect x="878" y="322" width="7" height="36" fill="#00bcd4"/>
<rect x="890" y="319" width="1" height="43" fill="#ff9800"/>
<rect x="887" y="325" width="7" height="3" fill="#ff9800"/>
<rect x="899" y="250" width="1" height="55" fill="#00bcd4"/>
<rect x="896" y="260" width="7" height="42" fill="#00bcd4"/>
<rect x="907" y="210" width="1" height="80" fill="#ff9800"/>
<rect x="904" y="271" width="7" height="6" fill="#ff9800"/>
<rect x="916" y="259" width="1" height="95" fill="#ff9800"/>
<rect x="913" y="286" width="7" height="55" fill="#ff9800"/>
<rect x="925" y="336" width="1" height="72" fill="#ff9800"/>
<rect x="922" y="342" width="7" height="61" fill="#ff9800"/>
<rect x="934" y="353" width="1" height="37" fill="#00bcd4"/>
<rect x="931" y="367" width="7" height="5" fill="#00bcd4"/>
<rect x="943" y="358" width="1" height="77" fill="#ff9800"/>
<rect x="940" y="360" width="7" height="59" fill="#ff9800"/>
<rect x="951" y="404" width="1" height="108" fill="#ff9800"/>
<rect x="948" y="420" width="7" height="86" fill="#ff9800"/>
<rect x="960" y="445" width="1" height="62" fill="#00bcd4"/>
<rect x="957" y="448" width="7" height="50" fill="#00bcd4"/>
<rect x="969" y="404" width="1" height="40" fill="#00bcd4"/>
<rect x="966" y="418" width="7" height="14" fill="#00bcd4"/>
<rect x="978" y="360" width="1" height="69" fill="#00bcd4"/>
<rect x="975" y="391" width="7" height="30" fill="#00bcd4"/>
<rect x="986" y="373" width="1" height="81" fill="#ff9800"/>
<rect x="983" y="398" width="7" height="23" fill="#ff9800"/>
<rect x="995" y="390" width="1" height="44" fill="#00bcd4"/>
<rect x="992" y="395" width="7" height="35" fill="#00bcd4"/>
<rect x="1004" y="390" width="1" height="71" fill="#ff9800"/>
<rect x="1001" y="396" width="7" height="37" fill="#ff9800"/>
<rect x="1013" y="426" width="1" height="51" fill="#ff9800"/>
<rect x="1010" y="436" width="7" height="28" fill="#ff9800"/>
<rect x="1022" y="441" width="1" height="106" fill="#ff9800"/>
<rect x="1019" y="456" width="7" height="90" fill="#ff9800"/>
<rect x="1030" y="478" width="1" height="82" fill="#00bcd4"/>
<rect x="1027" y="496" width="7" height="32" fill="#00bcd4"/>
<rect x="1039" y="491" width="1" height="78" fill="#ff9800"/>
<rect x="1036" y="503" width="7" height="8" fill="#ff9800"/>
<rect x="1048" y="450" width="1" height="69" fill="#00bcd4"/>
<rect x="1045" y="468" width="7" height="50" fill="#00bcd4"/>
<rect x="1057" y="415" width="1" height="44" fill="#00bcd4"/>
<rect x="1054" y="429" width="7" height="28" fill="#00bcd4"/>
<rect x="1065" y="402" width="1" height="61" fill="#ff9800"/>
<rect x="1062" y="427" width="7" height="4" fill="#ff9800"/>
<rect x="1074" y="444" width="1" height="41" fill="#ff9800"/>
<rect x="1071" y="448" width="7" height="30" fill="#ff9800"/>
<rect x="1083" y="460" width="1" height="67" fill="#ff9800"/>
<rect x="1080" y="477" width="7" height="12" fill="#ff9800"/>
<rect x="1092" y="485" width="1" height="39" fill="#ff9800"/>
<rect x="1089" y="487" width="7" height="28" fill="#ff9800"/>
<rect x="1101" y="470" width="1" height="72" fill="#ff9800"/>
<rect x="1098" y="509" width="7" height="20" fill="#ff9800"/>
<rect x="1109" y="479" width="1" height="92" fill="#ff9800"/>
<rect x="1106" y="500" width="7" height="48" fill="#ff9800"/>
<rect x="1118" y="545" width="1" height="106" fill="#ff9800"/>
<rect x="1115" y="550" width="7" height="87" fill="#ff9800"/>
<rect x="1127" y="592" width="1" height="78" fill="#ff9800"/>
<rect x="1124" y="609" width="7" height="38" fill="#ff9800"/>
<rect x="1136" y="631" width="1" height="51" fill="#ff9800"/>
<rect x="1133" y="638" width="7" height="14" fill="#ff9800"/>
<rect x="1144" y="650" width="1" height="97" fill="#ff9800"/>
<rect x="1141" y="652" width="7" height="94" fill="#ff9800"/>
<rect x="1153" y="715" width="1" height="32" fill="#00bcd4"/>
<rect x="1150" y="722" width="7" height="15" fill="#00bcd4"/>
<rect x="1162" y="649" width="1" height="72" fill="#00bcd4"/>
<rect x="1159" y="658" width="7" height="61" fill="#00bcd4"/>
<rect x="1171" y="625" width="1" height="60" fill="#00bcd4"/>
<rect x="1168" y="638" width="7" height="18" fill="#00bcd4"/>
<rect x="1180" y="618" width="1" height="51" fill="#ff9800"/>
<rect x="1177" y="626" width="7" height="6" fill="#ff9800"/>
<rect x="1188" y="640" width="1" height="54" fill="#ff9800"/>
<rect x="1185" y="641" width="7" height="18" fill="#ff9800"/>
<rect x="1197" y="594" width="1" height="88" fill="#00bcd4"/>
<rect x="1194" y="614" width="7" height="45" fill="#00bcd4"/>
<rect x="1206" y="605" width="1" height="70" fill="#ff9800"/>
<rect x="1203" y="631" width="7" height="3" fill="#ff9800"/>
<rect x="1215" y="624" width="1" height="32" fill="#00bcd4"/>
<rect x="1212" y="640" width="7" height="3" fill="#00bcd4"/>
<rect x="1223" y="639" width="1" height="85" fill="#ff9800"/>
<rect x="1220" y="647" width="7" height="76" fill="#ff9800"/>
<rect x="1232" y="664" width="1" height="64" fill="#00bcd4"/>
<rect x="1229" y="691" width="7" height="22" fill="#00bcd4"/>
<rect x="1241" y="674" width="1" height="53" fill="#00bcd4"/>
<rect x="1238" y="679" width="7" height="24" fill="#00bcd4"/>
<rect x="1250" y="595" width="1" height="90" fill="#00bcd4"/>
<rect x="1247" y="598" width="7" height="81" fill="#00bcd4"/>
<rect x="1259" y="573" width="1" height="90" fill="#00bcd4"/>
<rect x="1256" y="579" width="7" height="55" fill="#00bcd4"/>
<rect x="1267" y="554" width="1" height="125" fill="#ff9800"/>
<rect x="1264" y="576" width="7" height="5" fill="#ff9800"/>
<rect x="1276" y="590" width="1" height="32" fill="#ff9800"/>
<rect x="1273" y="596" width="7" height="4" fill="#ff9800"/>
<rect x="1285" y="491" width="1" height="108" fill="#00bcd4"/>
<rect x="1282" y="494" width="7" height="104" fill="#00bcd4"/>
<rect x="1294" y="469" width="1" height="46" fill="#ff9800"/>
<rect x="1291" y="493" width="7" height="9" fill="#ff9800"/>
<rect x="1302" y="485" width="1" height="34" fill="#00bcd4"/>
<rect x="1299" y="506" width="7" height="7" fill="#00bcd4"/>
<rect x="1311" y="490" width="1" height="51" fill="#ff9800"/>
<rect x="1308" y="517" width="7" height="14" fill="#ff9800"/>
<rect x="1320" y="465" width="1" height="69" fill="#00bcd4"/>
<rect x="1317" y="482" width="7" height="49" fill="#00bcd4"/>
<rect x="1329" y="428" width="1" height="62" fill="#00bcd4"/>
<rect x="1326" y="464" width="7" height="7" fill="#00bcd4"/>
<rect x="1338" y="456" width="1" height="46" fill="#ff9800"/>
<rect x="1335" y="467" width="7" height="18" fill="#ff9800"/>
<rect x="1346" y="417" width="1" height="75" fill="#00bcd4"/>
<rect x="1343" y="440" width="7" height="36" fill="#00bcd4"/>
<rect x="1355" y="440" width="1" height="84" fill="#ff9800"/>
<rect x="1352" y="442" width="7" height="33" fill="#ff9800"/>
<rect x="1364" y="423" width="1" height="80" fill="#00bcd4"/>
<rect x="1361" y="468" width="7" height="10" fill="#00bcd4"/>
<rect x="1373" y="462" width="1" height="29" fill="#00bcd4"/>
<rect x="1370" y="465" width="7" height="7" fill="#00bcd4"/>
<rect x="1381" y="364" width="1" height="48" fill="#00bcd4"/>
<rect x="1378" y="385" width="7" height="26" fill="#00bcd4"/>
<rect x="1390" y="357" width="1" height="31" fill="#ff9800"/>
<rect x="1387" y="370" width="7" height="15" fill="#ff9800"/>
<rect x="1399" y="361" width="1" height="38" fill="#ff9800"/>
<rect x="1396" y="378" width="7" height="5" fill="#ff9800"/>
<rect x="1408" y="360" width="1" height="60" fill="#ff9800"/>
<rect x="1405" y="379" width="7" height="31" fill="#ff9800"/>
<rect x="1417" y="396" width="1" height="61" fill="#ff9800"/>
<rect x="1414" y="407" width="7" height="7" fill="#ff9800"/>
<rect x="1425" y="381" width="1" height="51" fill="#ff9800"/>
<rect x="1422" y="402" width="7" height="16" fill="#ff9800"/>
<rect x="1434" y="332" width="1" height="58" fill="#ff9800"/>
<rect x="1431" y="352" width="7" height="31" fill="#ff9800"/>
<rect x="1443" y="370" width="1" height="46" fill="#ff9800"/>
<rect x="1440" y="382" width="7" height="28" fill="#ff9800"/>
<rect x="1452" y="409" width="1" height="36" fill="#ff9800"/>
<rect x="1449" y="412" width="7" height="24" fill="#ff9800"/>
<rect x="1460" y="419" width="1" height="63" fill="#ff9800"/>
<rect x="1457" y="430" width="7" height="23" fill="#ff9800"/>
<rect x="1469" y="379" width="1" height="62" fill="#ff9800"/>
<rect x="1466" y="411" width="7" height="21" fill="#ff9800"/>
<rect x="1478" y="409" width="1" height="34" fill="#00bcd4"/>
<rect x="1475" y="435" width="7" height="6" fill="#00bcd4"/>
<rect x="1487" y="423" width="1" height="62" fill="#ff9800"/>
<rect x="1484" y="427" width="7" height="41" fill="#ff9800"/>
<rect x="1496" y="447" width="1" height="35" fill="#00bcd4"/>
<rect x="1493" y="471" width="7" height="4" fill="#00bcd4"/>
<rect x="1504" y="412" width="1" height="44" fill="#ff9800"/>
<rect x="1501" y="426" width="7" height="13" fill="#ff9800"/>
<rect x="1513" y="377" width="1" height="79" fill="#00bcd4"/>
<rect x="1510" y="389" width="7" height="45" fill="#00bcd4"/>
<rect x="1522" y="272" width="1" height="123" fill="#00bcd4"/>
<rect x="1519" y="289" width="7" height="91" fill="#00bcd4"/>
<rect x="1531" y="105" width="1" height="154" fill="#00bcd4"/>
<rect x="1528" y="170" width="7" height="78" fill="#00bcd4"/>
<rect x="1539" y="122" width="1" height="74" fill="#ff9800"/>
<rect x="1536" y="122" width="7" height="41" fill="#ff9800"/>
<rect x="1548" y="122" width="1" height="78" fill="#ff9800"/>
<rect x="1545" y="152" width="7" height="10" fill="#ff9800"/>
<rect x="1557" y="146" width="1" height="101" fill="#ff9800"/>
<rect x="1554" y="150" width="7" height="85" fill="#ff9800"/>
<rect x="1566" y="227" width="1" height="42" fill="#00bcd4"/>
<rect x="1563" y="242" width="7" height="18" fill="#00bcd4"/>
<rect x="1575" y="208" width="1" height="67" fill="#ff9800"/>
<rect x="1572" y="236" width="7" height="25" fill="#ff9800"/>
<rect x="1583" y="266" width="1" height="103" fill="#ff9800"/>
<rect x="1580" y="266" width="7" height="80" fill="#ff9800"/>
<rect x="1592" y="289" width="1" height="86" fill="#00bcd4"/>
<rect x="1589" y="295" width="7" height="60" fill="#00bcd4"/>
<rect x="1601" y="234" width="1" height="44" fill="#ff9800"/>
<rect x="1598" y="234" width="7" height="32" fill="#ff9800"/>
<rect x="1610" y="223" width="1" height="77" fill="#ff9800"/>
<rect x="1607" y="279" width="7" height="5" fill="#ff9800"/>
<rect x="1618" y="253" width="1" height="50" fill="#ff9800"/>
<rect x="1615" y="286" width="7" height="4" fill="#ff9800"/>
<rect x="1627" y="262" width="1" height="52" fill="#00bcd4"/>
<rect x="1624" y="275" width="7" height="13" fill="#00bcd4"/>
<rect x="1636" y="320" width="1" height="67" fill="#ff9800"/>
<rect x="1633" y="331" width="7" height="52" fill="#ff9800"/>
<rect x="1645" y="369" width="1" height="62" fill="#ff9800"/>
<rect x="1642" y="384" width="7" height="36" fill="#ff9800"/>
<rect x="1654" y="370" width="1" height="60" fill="#00bcd4"/>
<rect x="1651" y="393" width="7" height="20" fill="#00bcd4"/>
<rect x="1662" y="354" width="1" height="50" fill="#00bcd4"/>
<rect x="1659" y="380" width="7" height="9" fill="#00bcd4"/>
<rect x="1671" y="332" width="1" height="56" fill="#00bcd4"/>
<rect x="1668" y="343" width="7" height="42" fill="#00bcd4"/>
<rect x="1680" y="325" width="1" height="98" fill="#ff9800"/>
<rect x="1677" y="340" width="7" height="52" fill="#ff9800"/>
<rect x="1689" y="374" width="1" height="53" fill="#ff9800"/>
<rect x="1686" y="394" width="7" height="3" fill="#ff9800"/>
<rect x="1697" y="438" width="1" height="128" fill="#ff9800"/>
<rect x="1694" y="456" width="7" height="35" fill="#ff9800"/>
<rect x="1706" y="454" width="1" height="74" fill="#00bcd4"/>
<rect x="1703" y="476" width="7" height="15" fill="#00bcd4"/>
<rect x="1715" y="466" width="1" height="67" fill="#ff9800"/>
<rect x="1712" y="476" width="7" height="42" fill="#ff9800"/>
<rect x="1724" y="442" width="1" height="80" fill="#00bcd4"/>
<rect x="1721" y="466" width="7" height="27" fill="#00bcd4"/>
<rect x="1733" y="393" width="1" height="55" fill="#ff9800"/>
<rect x="1730" y="420" width="7" height="16" fill="#ff9800"/>
<rect x="1741" y="414" width="1" height="48" fill="#ff9800"/>
<rect x="1738" y="444" width="7" height="2" fill="#ff9800"/>
<rect x="1750" y="446" width="1" height="57" fill="#ff9800"/>
<rect x="1747" y="446" width="7" height="55" fill="#ff9800"/>
<rect x="1759" y="480" width="1" height="113" fill="#ff9800"/>
<rect x="1756" y="503" width="7" height="73" fill="#ff9800"/>
</g>
<line x1="0" y1="575.5" x2="1852" y2="575.5" stroke="#ff9800" stroke-width="1" stroke-dasharray="1 2" shape-rendering="crispEdges"/>
<rect x="0" y="1052" width="1920" height="28" fill="#131722"/>
<rect x="0" y="1052" width="1920" height="1" fill="#2a2e39" shape-rendering="crispEdges"/>
<rect x="1852" y="1052" width="1" height="1" fill="#131722" shape-rendering="crispEdges"/>
<g stroke="#8d909c" stroke-width="1.05" fill="none"><circle cx="1886.55" cy="1066.5" r="5.0"/>
<line x1="1892.05" y1="1066.50" x2="1894.25" y2="1066.50"/>
<line x1="1891.22" y1="1071.17" x2="1891.85" y2="1071.80"/>
<line x1="1886.55" y1="1072.00" x2="1886.55" y2="1074.20"/>
<line x1="1881.88" y1="1071.17" x2="1881.25" y2="1071.80"/>
<line x1="1881.05" y1="1066.50" x2="1878.85" y2="1066.50"/>
<line x1="1881.88" y1="1061.83" x2="1881.25" y2="1061.20"/>
<line x1="1886.55" y1="1061.00" x2="1886.55" y2="1058.80"/>
<line x1="1891.22" y1="1061.83" x2="1891.85" y2="1061.20"/>
</g>
<circle cx="23.6" cy="1029.9" r="15.8" fill="#131722" stroke="#ffffff" stroke-opacity="0.12" stroke-width="0.9"/>
<g transform="translate(12.75,1022.53) scale(0.6169)" fill="#ffffff"><path d="M14 22H7V11H0V4h14v18z"/><path d="M28 22h-8l7.5-18h8L28 22z"/><circle cx="20" cy="8" r="4"/></g>
<circle cx="258" cy="15.95" r="8.95" fill="#2a2e39"/>
<rect x="253.1" y="14.2" width="9.8" height="3.6" rx="1.8" fill="#a3a6b0"/>
<rect x="9.7" y="78.8" width="28" height="19.5" rx="3.5" fill="none" stroke="#3a3e4a" stroke-width="1"/>
<path d="M19.4 90.7 L23.4 86.8 L27.4 90.7" fill="none" stroke="#d1d4dc" stroke-width="1.4" stroke-linecap="round" stroke-linejoin="round"/>
</svg>
<svg width="1920" height="1080" viewBox="0 0 1920 1080" style="position:absolute;left:0;top:0;will-change:transform;font-family:'Liberation Sans',sans-serif">
<text x="100.5" y="1070" font-size="12" fill="#b2b5be" stroke="#b2b5be" stroke-width="0.2" text-anchor="middle">Apr</text>
<text x="249.5" y="1070" font-size="12" fill="#b2b5be" stroke="#b2b5be" stroke-width="0.2" text-anchor="middle">May</text>
<text x="390.5" y="1070" font-size="12" fill="#b2b5be" stroke="#b2b5be" stroke-width="0.2" text-anchor="middle">Jun</text>
<text x="530.5" y="1070" font-size="12" fill="#b2b5be" stroke="#b2b5be" stroke-width="0.2" text-anchor="middle">Jul</text>
<text x="697.5" y="1070" font-size="12" fill="#b2b5be" stroke="#b2b5be" stroke-width="0.2" text-anchor="middle">Aug</text>
<text x="837.5" y="1070" font-size="12" fill="#b2b5be" stroke="#b2b5be" stroke-width="0.2" text-anchor="middle">Sep</text>
<text x="986.5" y="1070" font-size="12" fill="#b2b5be" stroke="#b2b5be" stroke-width="0.2" text-anchor="middle">Oct</text>
<text x="1144.5" y="1070" font-size="12" fill="#b2b5be" stroke="#b2b5be" stroke-width="0.2" text-anchor="middle">Nov</text>
<text x="1276.5" y="1070" font-size="12" fill="#b2b5be" stroke="#b2b5be" stroke-width="0.2" text-anchor="middle">Dec</text>
<text x="1425.5" y="1070" font-size="12" font-weight="bold" fill="#d1d4dc" text-anchor="middle">2026</text>
<text x="1566.5" y="1070" font-size="12" fill="#b2b5be" stroke="#b2b5be" stroke-width="0.2" text-anchor="middle">Feb</text>
<text x="1697.5" y="1070" font-size="12" fill="#b2b5be" stroke="#b2b5be" stroke-width="0.2" text-anchor="middle">Mar</text>
<text x="1785.5" y="1070" font-size="12" fill="#b2b5be" stroke="#b2b5be" stroke-width="0.2" text-anchor="middle">17</text>
<text x="1862.8" y="11.8" font-size="12" fill="#b2b5be" stroke="#b2b5be" stroke-width="0.25" textLength="33.2" lengthAdjust="spacingAndGlyphs">1.4000</text>
<text x="1862.8" y="48.8" font-size="12" fill="#b2b5be" stroke="#b2b5be" stroke-width="0.25" textLength="33.2" lengthAdjust="spacingAndGlyphs">1.3950</text>
<text x="1862.8" y="85.8" font-size="12" fill="#b2b5be" stroke="#b2b5be" stroke-width="0.25" textLength="33.2" lengthAdjust="spacingAndGlyphs">1.3900</text>
<text x="1862.8" y="123.8" font-size="12" fill="#b2b5be" stroke="#b2b5be" stroke-width="0.25" textLength="33.2" lengthAdjust="spacingAndGlyphs">1.3850</text>
<text x="1862.8" y="160.8" font-size="12" fill="#b2b5be" stroke="#b2b5be" stroke-width="0.25" textLength="33.2" lengthAdjust="spacingAndGlyphs">1.3800</text>
<text x="1862.8" y="198.8" font-size="12" fill="#b2b5be" stroke="#b2b5be" stroke-width="0.25" textLength="33.2" lengthAdjust="spacingAndGlyphs">1.3750</text>
<text x="1862.8" y="235.8" font-size="12" fill="#b2b5be" stroke="#b2b5be" stroke-width="0.25" textLength="33.2" lengthAdjust="spacingAndGlyphs">1.3700</text>
<text x="1862.8" y="273.8" font-size="12" fill="#b2b5be" stroke="#b2b5be" stroke-width="0.25" textLength="33.2" lengthAdjust="spacingAndGlyphs">1.3650</text>
<text x="1862.8" y="310.8" font-size="12" fill="#b2b5be" stroke="#b2b5be" stroke-width="0.25" textLength="33.2" lengthAdjust="spacingAndGlyphs">1.3600</text>
<text x="1862.8" y="347.8" font-size="12" fill="#b2b5be" stroke="#b2b5be" stroke-width="0.25" textLength="33.2" lengthAdjust="spacingAndGlyphs">1.3550</text>
<text x="1862.8" y="385.8" font-size="12" fill="#b2b5be" stroke="#b2b5be" stroke-width="0.25" textLength="33.2" lengthAdjust="spacingAndGlyphs">1.3500</text>
<text x="1862.8" y="422.8" font-size="12" fill="#b2b5be" stroke="#b2b5be" stroke-width="0.25" textLength="33.2" lengthAdjust="spacingAndGlyphs">1.3450</text>
<text x="1862.8" y="460.8" font-size="12" fill="#b2b5be" stroke="#b2b5be" stroke-width="0.25" textLength="33.2" lengthAdjust="spacingAndGlyphs">1.3400</text>
<text x="1862.8" y="497.8" font-size="12" fill="#b2b5be" stroke="#b2b5be" stroke-width="0.25" textLength="33.2" lengthAdjust="spacingAndGlyphs">1.3350</text>
<text x="1862.8" y="535.8" font-size="12" fill="#b2b5be" stroke="#b2b5be" stroke-width="0.25" textLength="33.2" lengthAdjust="spacingAndGlyphs">1.3300</text>
<text x="1862.8" y="572.8" font-size="12" fill="#b2b5be" stroke="#b2b5be" stroke-width="0.25" textLength="33.2" lengthAdjust="spacingAndGlyphs">1.3250</text>
<text x="1862.8" y="610.8" font-size="12" fill="#b2b5be" stroke="#b2b5be" stroke-width="0.25" textLength="33.2" lengthAdjust="spacingAndGlyphs">1.3200</text>
<text x="1862.8" y="647.8" font-size="12" fill="#b2b5be" stroke="#b2b5be" stroke-width="0.25" textLength="33.2" lengthAdjust="spacingAndGlyphs">1.3150</text>
<text x="1862.8" y="684.8" font-size="12" fill="#b2b5be" stroke="#b2b5be" stroke-width="0.25" textLength="33.2" lengthAdjust="spacingAndGlyphs">1.3100</text>
<text x="1862.8" y="722.8" font-size="12" fill="#b2b5be" stroke="#b2b5be" stroke-width="0.25" textLength="33.2" lengthAdjust="spacingAndGlyphs">1.3050</text>
<text x="1862.8" y="759.8" font-size="12" fill="#b2b5be" stroke="#b2b5be" stroke-width="0.25" textLength="33.2" lengthAdjust="spacingAndGlyphs">1.3000</text>
<text x="1862.8" y="797.8" font-size="12" fill="#b2b5be" stroke="#b2b5be" stroke-width="0.25" textLength="33.2" lengthAdjust="spacingAndGlyphs">1.2950</text>
<text x="1862.8" y="834.8" font-size="12" fill="#b2b5be" stroke="#b2b5be" stroke-width="0.25" textLength="33.2" lengthAdjust="spacingAndGlyphs">1.2900</text>
<text x="1862.8" y="872.8" font-size="12" fill="#b2b5be" stroke="#b2b5be" stroke-width="0.25" textLength="33.2" lengthAdjust="spacingAndGlyphs">1.2850</text>
<text x="1862.8" y="909.8" font-size="12" fill="#b2b5be" stroke="#b2b5be" stroke-width="0.25" textLength="33.2" lengthAdjust="spacingAndGlyphs">1.2800</text>
<text x="1862.8" y="946.8" font-size="12" fill="#b2b5be" stroke="#b2b5be" stroke-width="0.25" textLength="33.2" lengthAdjust="spacingAndGlyphs">1.2750</text>
<text x="1862.8" y="984.8" font-size="12" fill="#b2b5be" stroke="#b2b5be" stroke-width="0.25" textLength="33.2" lengthAdjust="spacingAndGlyphs">1.2700</text>
<text x="1862.8" y="1021.8" font-size="12" fill="#b2b5be" stroke="#b2b5be" stroke-width="0.25" textLength="33.2" lengthAdjust="spacingAndGlyphs">1.2650</text>
<text x="9.2" y="21.7" font-size="15.5" fill="#d1d4dc" stroke="#d1d4dc" stroke-width="0.3" textLength="45.0" lengthAdjust="spacingAndGlyphs">British</text>
<text x="60.3" y="21.7" font-size="15.5" fill="#d1d4dc" stroke="#d1d4dc" stroke-width="0.3" textLength="43.0" lengthAdjust="spacingAndGlyphs">Pound</text>
<text x="109.2" y="21.7" font-size="15.5" fill="#d1d4dc" stroke="#d1d4dc" stroke-width="0.3" textLength="52.5" lengthAdjust="spacingAndGlyphs">Futures</text>
<text x="166.7" y="21.7" font-size="15.5" fill="#d1d4dc" stroke="#d1d4dc" stroke-width="0.3" textLength="2.2" lengthAdjust="spacingAndGlyphs">·</text>
<text x="174.4" y="21.7" font-size="15.5" fill="#d1d4dc" stroke="#d1d4dc" stroke-width="0.3" textLength="17.3" lengthAdjust="spacingAndGlyphs">1D</text>
<text x="196.7" y="21.7" font-size="15.5" fill="#d1d4dc" stroke="#d1d4dc" stroke-width="0.3" textLength="2.2" lengthAdjust="spacingAndGlyphs">·</text>
<text x="204.2" y="21.7" font-size="15.5" fill="#d1d4dc" stroke="#d1d4dc" stroke-width="0.3" textLength="28.8" lengthAdjust="spacingAndGlyphs">CME</text>
<text x="283.2" y="20.8" font-size="13" fill="#d1d4dc" stroke="#d1d4dc" stroke-width="0.2" textLength="8.2" lengthAdjust="spacingAndGlyphs">O</text>
<text x="293.3" y="20.8" font-size="13" fill="#ff9800" stroke="#ff9800" stroke-width="0.2" textLength="39" lengthAdjust="spacingAndGlyphs">1.3338</text>
<text x="339.3" y="20.8" font-size="13" fill="#d1d4dc" stroke="#d1d4dc" stroke-width="0.2" textLength="7.5" lengthAdjust="spacingAndGlyphs">H</text>
<text x="349" y="20.8" font-size="13" fill="#ff9800" stroke="#ff9800" stroke-width="0.2" textLength="39.3" lengthAdjust="spacingAndGlyphs">1.3368</text>
<text x="395.7" y="20.8" font-size="13" fill="#d1d4dc" stroke="#d1d4dc" stroke-width="0.2" textLength="6" lengthAdjust="spacingAndGlyphs">L</text>
<text x="403.3" y="20.8" font-size="13" fill="#ff9800" stroke="#ff9800" stroke-width="0.2" textLength="39" lengthAdjust="spacingAndGlyphs">1.3218</text>
<text x="449" y="20.8" font-size="13" fill="#d1d4dc" stroke="#d1d4dc" stroke-width="0.2" textLength="7.5" lengthAdjust="spacingAndGlyphs">C</text>
<text x="459" y="20.8" font-size="13" fill="#ff9800" stroke="#ff9800" stroke-width="0.2" textLength="37.7" lengthAdjust="spacingAndGlyphs">1.3241</text>
<text x="505" y="20.8" font-size="13" fill="#ff9800" stroke="#ff9800" stroke-width="0.2" textLength="45" lengthAdjust="spacingAndGlyphs">−0.0101</text>
<text x="556" y="20.8" font-size="13" fill="#ff9800" stroke="#ff9800" stroke-width="0.2" textLength="49" lengthAdjust="spacingAndGlyphs">(−0.76%)</text>
<text x="9.2" y="44.7" font-size="12.5" fill="#d1d4dc" stroke="#d1d4dc" stroke-width="0.2" textLength="30.3" lengthAdjust="spacingAndGlyphs">VPVR</text>
<text x="44.2" y="44.7" font-size="12.5" fill="#898a90" stroke="#898a90" stroke-width="0.2" textLength="45.0" lengthAdjust="spacingAndGlyphs">Number</text>
<text x="93.3" y="44.7" font-size="12.5" fill="#898a90" stroke="#898a90" stroke-width="0.2" textLength="13.0" lengthAdjust="spacingAndGlyphs">Of</text>
<text x="111.3" y="44.7" font-size="12.5" fill="#898a90" stroke="#898a90" stroke-width="0.2" textLength="28.7" lengthAdjust="spacingAndGlyphs">Rows</text>
<text x="144.9" y="44.7" font-size="12.5" fill="#898a90" stroke="#898a90" stroke-width="0.2" textLength="20.1" lengthAdjust="spacingAndGlyphs">100</text>
<text x="169.2" y="44.7" font-size="12.5" fill="#898a90" stroke="#898a90" stroke-width="0.2" textLength="53.3" lengthAdjust="spacingAndGlyphs">Up/Down</text>
<text x="227.5" y="44.7" font-size="12.5" fill="#898a90" stroke="#898a90" stroke-width="0.2" textLength="13.3" lengthAdjust="spacingAndGlyphs">70</text>
<text x="255" y="44.7" font-size="12.5" fill="#898a90" stroke="#898a90" stroke-width="0.2" textLength="46.7" lengthAdjust="spacingAndGlyphs">77.171K</text>
<text x="308.3" y="44.7" font-size="12.5" fill="#898a90" stroke="#898a90" stroke-width="0.2" textLength="46.7" lengthAdjust="spacingAndGlyphs">55.866K</text>
<text x="361.9" y="44.7" font-size="12.5" fill="#4b4c50" stroke="#4b4c50" stroke-width="0.2" textLength="53.1" lengthAdjust="spacingAndGlyphs">133.037K</text>
<text x="9.2" y="68.8" font-size="12.5" fill="#d1d4dc" stroke="#d1d4dc" stroke-width="0.2" textLength="42.5" lengthAdjust="spacingAndGlyphs">Volume</text>
<text x="56.3" y="68.8" font-size="11.5" fill="#898a90" stroke="#898a90" stroke-width="0.15" textLength="22.0" lengthAdjust="spacingAndGlyphs">SMA</text>
<text x="82.5" y="68.8" font-size="11.5" fill="#898a90" stroke="#898a90" stroke-width="0.15" textLength="5.8" lengthAdjust="spacingAndGlyphs">9</text>
<text x="103.9" y="68.8" font-size="12.5" fill="#ff9800" stroke="#ff9800" stroke-width="0.2" textLength="53.3" lengthAdjust="spacingAndGlyphs">181.644K</text>
<path d="M1852 310.0H1900Q1902 310.0 1902 312.0V325.0Q1902 327.0 1900 327.0H1852Z" fill="#ff9800"/>
<path d="M1852 362.0H1900Q1902 362.0 1902 364.0V377.0Q1902 379.0 1900 379.0H1852Z" fill="#ff9800"/>
<path d="M1852 460.0H1900Q1902 460.0 1902 462.0V475.0Q1902 477.0 1900 477.0H1852Z" fill="#ff9800"/>
<path d="M1852 512.0H1900Q1902 512.0 1902 514.0V527.0Q1902 529.0 1900 529.0H1852Z" fill="#ff9800"/>
<path d="M1852 624.0H1900Q1902 624.0 1902 626.0V639.0Q1902 641.0 1900 641.0H1852Z" fill="#00bcd4"/>
<path d="M1852 722.0H1900Q1902 722.0 1902 724.0V737.0Q1902 739.0 1900 739.0H1852Z" fill="#00bcd4"/>
<path d="M1852 774.0H1900Q1902 774.0 1902 776.0V789.0Q1902 791.0 1900 791.0H1852Z" fill="#00bcd4"/>
<path d="M1852 584.0H1900Q1902 584.0 1902 586.0V599.0Q1902 601.0 1900 601.0H1852Z" fill="#00bcd4"/>
<path d="M1852 567.0H1900Q1902 567.0 1902 569.0V582.0Q1902 584.0 1900 584.0H1852Z" fill="#ff9800"/>
<path d="M1852 861.0H1913Q1915 861.0 1915 863.0V876.0Q1915 878.0 1913 878.0H1852Z" fill="#ff9800"/>
<text x="1862.8" y="322.8" font-size="12" fill="#0c0e15" stroke="#0c0e15" stroke-width="0.25" textLength="33" lengthAdjust="spacingAndGlyphs">1.3585</text>
<text x="1862.8" y="374.8" font-size="12" fill="#0c0e15" stroke="#0c0e15" stroke-width="0.25" textLength="33" lengthAdjust="spacingAndGlyphs">1.3515</text>
<text x="1862.8" y="472.8" font-size="12" fill="#0c0e15" stroke="#0c0e15" stroke-width="0.25" textLength="33" lengthAdjust="spacingAndGlyphs">1.3385</text>
<text x="1862.8" y="524.8" font-size="12" fill="#0c0e15" stroke="#0c0e15" stroke-width="0.25" textLength="33" lengthAdjust="spacingAndGlyphs">1.3315</text>
<text x="1862.8" y="636.8" font-size="12" fill="#0c0e15" stroke="#0c0e15" stroke-width="0.25" textLength="33" lengthAdjust="spacingAndGlyphs">1.3165</text>
<text x="1862.8" y="734.8" font-size="12" fill="#0c0e15" stroke="#0c0e15" stroke-width="0.25" textLength="33" lengthAdjust="spacingAndGlyphs">1.3035</text>
<text x="1862.8" y="786.8" font-size="12" fill="#0c0e15" stroke="#0c0e15" stroke-width="0.25" textLength="33" lengthAdjust="spacingAndGlyphs">1.2965</text>
<text x="1862.8" y="596.8" font-size="12" fill="#0c0e15" stroke="#0c0e15" stroke-width="0.25" textLength="33" lengthAdjust="spacingAndGlyphs">1.3235</text>
<text x="1862.8" y="579.8" font-size="12" fill="#0c0e15" stroke="#0c0e15" stroke-width="0.25" textLength="33" lengthAdjust="spacingAndGlyphs">1.3241</text>
<text x="1862.8" y="873.8" font-size="12" fill="#0c0e15" stroke="#0c0e15" stroke-width="0.25" textLength="46.3" lengthAdjust="spacingAndGlyphs">181.644K</text>
</svg>
</body></html>
